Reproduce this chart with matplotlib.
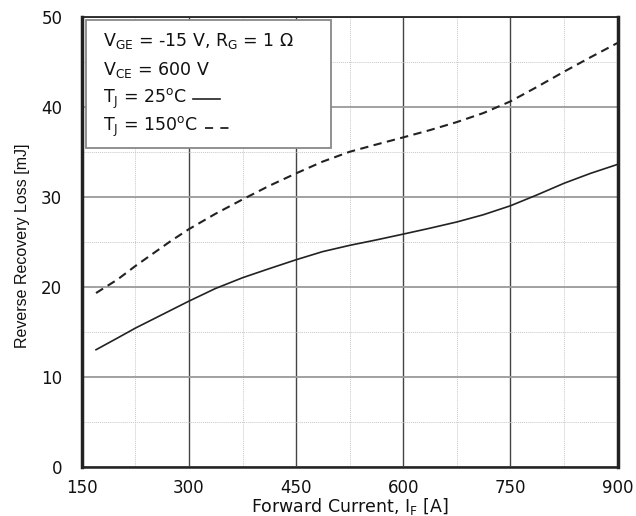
import matplotlib
matplotlib.use("Agg")
import matplotlib.pyplot as plt
from matplotlib.patches import Rectangle
from matplotlib.lines import Line2D
from matplotlib.ticker import MultipleLocator
from matplotlib import font_manager

# Forward current [A]
current = [170, 200, 225, 250, 275, 300, 337, 375, 412, 450, 487, 525,
           562, 600, 637, 675, 712, 750, 787, 825, 862, 900]
# Reverse recovery loss [mJ], Tj = 25 C (solid)
loss_25 = [13.0, 14.3, 15.4, 16.4, 17.4, 18.4, 19.8, 21.0, 22.0, 23.0, 23.9, 24.6,
           25.2, 25.85, 26.5, 27.2, 28.0, 29.0, 30.2, 31.5, 32.6, 33.6]
# Reverse recovery loss [mJ], Tj = 150 C (dashed)
loss_150 = [19.3, 20.8, 22.3, 23.7, 25.1, 26.4, 28.1, 29.7, 31.2, 32.6, 33.9, 35.0,
            35.8, 36.6, 37.4, 38.3, 39.3, 40.6, 42.2, 43.9, 45.5, 47.1]

x_ticks = [150, 300, 450, 600, 750, 900]
y_ticks = [0, 10, 20, 30, 40, 50]

legend_lines = [
    r"$\mathregular{V_{GE}}$ = -15 V, $\mathregular{R_G}$ = 1 $\Omega$",
    r"$\mathregular{V_{CE}}$ = 600 V",
    r"$\mathregular{T_J}$ = 25$\mathregular{^oC}$",
    r"$\mathregular{T_J}$ = 150$\mathregular{^oC}$",
]

plt.rcParams["font.family"] = ["DejaVu Sans"]
plt.rcParams["mathtext.fontset"] = "dejavusans"

# narrow font for the rotated y label if available
try:
    font_manager.findfont(font_manager.FontProperties(family="Liberation Sans Narrow"),
                          fallback_to_default=False)
    ylab_family, ylab_size = ["Liberation Sans Narrow", "DejaVu Sans"], 13.5
except Exception:
    ylab_family, ylab_size = ["Liberation Sans", "DejaVu Sans"], 11.5

fig = plt.figure(figsize=(6.36, 5.16), dpi=100)
ax = fig.add_axes([0.1285, 0.0955, 0.8427, 0.872])

ax.set_xlim(150, 900)
ax.set_ylim(0, 50)
ax.set_xticks(x_ticks)
ax.set_yticks(y_ticks)
ax.xaxis.set_minor_locator(MultipleLocator(75))
ax.yaxis.set_minor_locator(MultipleLocator(5))

ax.tick_params(which="both", length=0)
ax.tick_params(axis="x", pad=8.5, labelsize=12, labelcolor="#111111")
ax.tick_params(axis="y", pad=14, labelsize=12, labelcolor="#111111")

# grid
ax.grid(which="minor", color="#c8c8c8", linestyle=(0, (1, 1)), linewidth=0.7)
ax.xaxis.grid(which="major", color="#444444", linestyle="-", linewidth=1.0)
ax.yaxis.grid(which="major", color="#9a9a9a", linestyle="-", linewidth=1.3)
ax.set_axisbelow(True)

for side, sp in ax.spines.items():
    sp.set_color("#222222")
    sp.set_linewidth(1.3)
ax.spines["left"].set_linewidth(2.5)
ax.spines["right"].set_linewidth(2.5)
ax.spines["bottom"].set_linewidth(1.8)

ax.plot(current, loss_25, color="#222222", linewidth=1.2, linestyle="-", zorder=3)
ax.plot(current, loss_150, color="#222222", linewidth=1.5,
        linestyle=(0, (4, 2.6)), zorder=3)

ax.set_xlabel(r"Forward Current, $\mathregular{I_F}$ [A]", fontsize=12.5, color="#111111")
ax.xaxis.set_label_coords(0.5, -0.066)
ax.set_ylabel("Reverse Recovery Loss [mJ]", fontsize=ylab_size, color="#111111",
              family=ylab_family)
ax.yaxis.set_label_coords(-0.097, 0.49)

# annotation box
box = Rectangle((0.008, 0.708), 0.457, 0.285, transform=ax.transAxes,
                facecolor="white", edgecolor="#888888", linewidth=1.3, zorder=4)
ax.add_patch(box)
baselines = [0.935, 0.871, 0.808, 0.746]
texts = []
for s, yy in zip(legend_lines, baselines):
    t = ax.text(0.040, yy, s, transform=ax.transAxes, fontsize=12.5, va="baseline",
                ha="left", color="#111111", zorder=5)
    texts.append(t)

# line samples after the temperature entries
fig.canvas.draw()
inv = ax.transAxes.inverted()
r = fig.canvas.get_renderer()
for t, yy, ls, lw, gap, length, lift in [
        (texts[2], baselines[2], "-", 1.2, 6, 27, 4),
        (texts[3], baselines[3], (0, (4.5, 4)), 1.3, 7, 24, 3)]:
    bb = t.get_window_extent(r)
    base_px = ax.transAxes.transform((0, yy))[1]
    x0 = inv.transform((bb.x1 + gap, 0))[0]
    x1 = inv.transform((bb.x1 + gap + length, 0))[0]
    yb = inv.transform((0, base_px + lift))[1]
    ax.add_line(Line2D([x0, x1], [yb, yb], transform=ax.transAxes, color="#222222",
                       linewidth=lw, linestyle=ls, zorder=5))

fig.savefig("out.png", dpi=100)
